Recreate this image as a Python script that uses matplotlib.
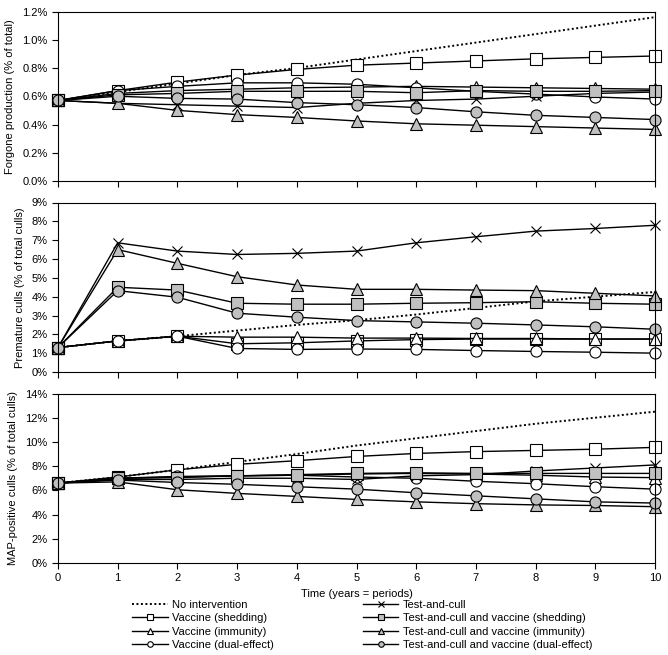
import numpy as np
import matplotlib.pyplot as plt
from matplotlib.ticker import FuncFormatter

plt.rcParams['font.family'] = ['Liberation Sans', 'DejaVu Sans']
plt.rcParams['font.size'] = 8

years = np.arange(0, 11)

labels = ["No intervention", "Vaccine (shedding)", "Vaccine (immunity)",
          "Vaccine (dual-effect)", "Test-and-cull",
          "Test-and-cull and vaccine (shedding)",
          "Test-and-cull and vaccine (immunity)",
          "Test-and-cull and vaccine (dual-effect)"]

# Forgone production (% of total)
fp_none = [0.57, 0.63, 0.69, 0.75, 0.80, 0.86, 0.92, 0.98, 1.04, 1.10, 1.16]
fp_vshed = [0.57, 0.64, 0.70, 0.75, 0.79, 0.82, 0.835, 0.85, 0.865, 0.875, 0.885]
fp_vimm = [0.57, 0.62, 0.64, 0.65, 0.66, 0.665, 0.67, 0.665, 0.66, 0.655, 0.65]
fp_vdual = [0.57, 0.64, 0.67, 0.695, 0.695, 0.685, 0.66, 0.635, 0.615, 0.595, 0.58]
fp_tc = [0.57, 0.55, 0.54, 0.53, 0.52, 0.55, 0.57, 0.58, 0.60, 0.62, 0.63]
fp_tshed = [0.57, 0.61, 0.62, 0.635, 0.635, 0.635, 0.625, 0.64, 0.635, 0.635, 0.64]
fp_timm = [0.57, 0.55, 0.50, 0.47, 0.45, 0.425, 0.405, 0.395, 0.385, 0.375, 0.365]
fp_tdual = [0.57, 0.60, 0.585, 0.58, 0.555, 0.54, 0.52, 0.49, 0.465, 0.45, 0.435]

# Premature culls (% of total culls)
pc_none = [1.3, 1.65, 1.9, 2.2, 2.5, 2.75, 3.05, 3.4, 3.75, 4.0, 4.25]
pc_vshed = [1.3, 1.65, 1.9, 1.5, 1.55, 1.65, 1.72, 1.75, 1.75, 1.75, 1.75]
pc_vimm = [1.3, 1.65, 1.9, 1.85, 1.85, 1.8, 1.8, 1.78, 1.78, 1.75, 1.75]
pc_vdual = [1.3, 1.65, 1.9, 1.25, 1.2, 1.22, 1.2, 1.14, 1.09, 1.05, 1.0]
pc_tc = [1.3, 6.86, 6.42, 6.24, 6.3, 6.42, 6.86, 7.18, 7.48, 7.62, 7.79]
pc_tshed = [1.3, 4.5, 4.35, 3.65, 3.6, 3.6, 3.65, 3.68, 3.73, 3.65, 3.6]
pc_timm = [1.3, 6.5, 5.77, 5.06, 4.62, 4.39, 4.39, 4.35, 4.32, 4.18, 4.04]
pc_tdual = [1.3, 4.32, 3.97, 3.12, 2.91, 2.73, 2.66, 2.59, 2.5, 2.4, 2.27]

# MAP-positive culls (% of total culls)
mp_none = [6.6, 7.1, 7.7, 8.35, 9.0, 9.7, 10.3, 10.9, 11.5, 12.0, 12.5]
mp_vshed = [6.6, 7.1, 7.7, 8.15, 8.45, 8.8, 9.05, 9.2, 9.3, 9.4, 9.55]
mp_vimm = [6.6, 7.0, 7.1, 7.2, 7.25, 7.35, 7.4, 7.35, 7.25, 7.1, 7.05]
mp_vdual = [6.6, 7.0, 7.15, 7.2, 7.25, 7.1, 7.0, 6.75, 6.55, 6.3, 6.1]
mp_tc = [6.6, 6.9, 6.9, 7.0, 7.0, 6.9, 7.2, 7.3, 7.6, 7.85, 8.1]
mp_tshed = [6.6, 7.0, 7.05, 7.2, 7.3, 7.4, 7.45, 7.4, 7.4, 7.4, 7.4]
mp_timm = [6.6, 6.7, 6.05, 5.75, 5.5, 5.25, 5.05, 4.9, 4.8, 4.75, 4.65]
mp_tdual = [6.6, 6.85, 6.65, 6.5, 6.3, 6.1, 5.8, 5.55, 5.3, 5.05, 4.95]

grey = '#c0c0c0'
styles = [
    dict(ls=(0, (1, 1.3)), marker=None, mfc='none', lw=1.4),
    dict(ls='-', marker='s', mfc='white', lw=1),
    dict(ls='-', marker='^', mfc='white', lw=1),
    dict(ls='-', marker='o', mfc='white', lw=1),
    dict(ls='-', marker='x', mfc='black', lw=1),
    dict(ls='-', marker='s', mfc=grey, lw=1),
    dict(ls='-', marker='^', mfc=grey, lw=1),
    dict(ls='-', marker='o', mfc=grey, lw=1),
]

panels = [
    ([fp_none, fp_vshed, fp_vimm, fp_vdual, fp_tc, fp_tshed, fp_timm, fp_tdual],
     "Forgone production (% of total)", (0, 1.2), np.arange(0, 1.21, 0.2), 1),
    ([pc_none, pc_vshed, pc_vimm, pc_vdual, pc_tc, pc_tshed, pc_timm, pc_tdual],
     "Premature culls (% of total culls)", (0, 9), np.arange(0, 10, 1), 0),
    ([mp_none, mp_vshed, mp_vimm, mp_vdual, mp_tc, mp_tshed, mp_timm, mp_tdual],
     "MAP-positive culls (% of total culls)", (0, 14), np.arange(0, 15, 2), 0),
]

fig = plt.figure(figsize=(6.68, 6.55), dpi=100)
left, width = 58 / 668, 597 / 668
bottoms = [1 - 181 / 655, 1 - 372 / 655, 1 - 563 / 655]
height = 169.5 / 655

handles = []
for i, (series, ylab, ylim, yticks, dec) in enumerate(panels):
    ax = fig.add_axes([left, bottoms[i], width, height])
    for vals, st in zip(series, styles):
        ms = 8 if st['marker'] != 'x' else 7.5
        h, = ax.plot(years, vals, color='black', ls=st['ls'], lw=st['lw'],
                     marker=st['marker'], ms=ms, mfc=st['mfc'], mec='black',
                     mew=0.8, clip_on=False)
        if i == 0:
            handles.append(h)
    ax.set_xlim(0, 10)
    ax.set_ylim(*ylim)
    ax.set_xticks(years)
    ax.set_yticks(yticks)
    ax.yaxis.set_major_formatter(
        FuncFormatter(lambda v, p, d=dec: f"{v:.{d}f}%"))
    ax.tick_params(direction='out', length=4, width=0.8, labelsize=8)
    ax.set_ylabel(ylab, fontsize=8, labelpad=5)
    for sp in ax.spines.values():
        sp.set_linewidth(0.8)
    if i < 2:
        ax.tick_params(axis='x', labelbottom=False)
    else:
        ax.set_xlabel("Time (years = periods)", fontsize=8, labelpad=4)

fig.legend(handles, labels, ncol=2, loc='upper left',
           bbox_to_anchor=(122 / 668, 1 - 590 / 655), frameon=False,
           fontsize=8, handlelength=3.2, handletextpad=0.4,
           columnspacing=8.0, labelspacing=0.3, markerscale=0.5)

fig.savefig('out.png', dpi=100)
